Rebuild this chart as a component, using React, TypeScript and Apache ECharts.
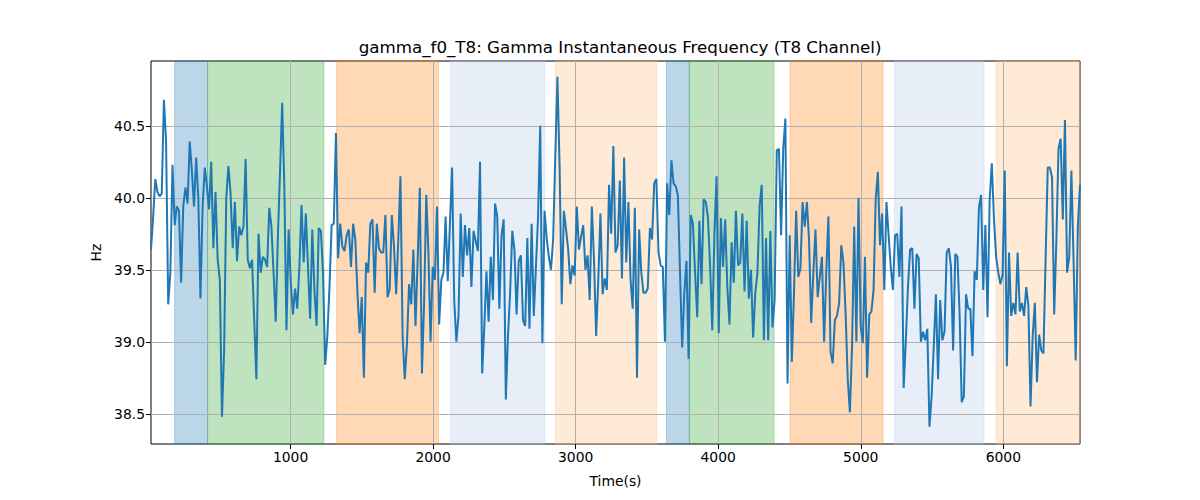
import React, { useEffect, useRef } from "react";
import * as echarts from "echarts";

const TITLE = "gamma_f0_T8: Gamma Instantaneous Frequency (T8 Channel)";
const X_NAME = "Time(s)";
const Y_NAME = "Hz";

const T_START = 21;
const T_END = 6538;

const X_TICKS = [1000, 2000, 3000, 4000, 5000, 6000];
const Y_TICKS = [38.5, 39.0, 39.5, 40.0, 40.5];
const Y_MIN = 38.29;
const Y_MAX = 40.95;

// Hz values sampled evenly over [T_START, T_END]
const hzValues: number[] = [
  // 0 - ~800
  39.64, 39.87, 40.13, 40.04, 40.01, 40.03, 40.68, 40.40, 39.26, 39.48,
  40.23, 39.81, 39.94, 39.91, 39.41, 39.94, 40.07, 39.96, 40.39, 40.19,
  39.94, 40.28, 40.00, 39.30, 39.94, 40.21, 40.08, 39.92, 40.25, 39.65,
  40.04, 39.57, 39.43, 38.48, 38.94, 40.00, 40.22, 40.03, 39.65, 39.97,
  39.56, 39.80, 39.74, 39.80, 40.27, 39.57, 39.51, 39.57, 39.15, 38.74,
  39.75, 39.48, 39.59,
  // ~800 - 1600
  39.57, 39.52, 39.93, 39.80, 39.48, 39.14, 39.73, 40.18, 40.66, 40.08,
  39.08, 39.78, 39.41, 39.19, 39.37, 39.23, 39.52, 39.95, 39.55, 39.89,
  39.52, 39.16, 39.78, 39.36, 39.11, 39.79, 39.77, 39.48, 38.84, 39.04,
  39.38, 39.81, 39.82, 40.45, 39.58, 39.82, 39.66, 39.63, 39.74, 39.78,
  39.52, 39.82, 39.71, 39.34, 39.06, 39.31, 38.75, 39.55, 39.48, 39.82,
  39.85, 39.34, 39.82, 39.65, 39.62,
  // ~1600 - 2400
  39.62, 39.88, 39.31, 39.37, 39.88, 39.66, 39.33, 39.71, 40.15, 39.04,
  38.74, 38.98, 39.40, 39.26, 39.64, 39.11, 39.57, 40.07, 38.78, 39.27,
  40.02, 39.62, 39.00, 39.52, 39.43, 39.94, 39.12, 39.43, 39.48, 39.87,
  39.42, 39.82, 40.21, 39.29, 39.00, 39.18, 39.89, 39.45, 39.81, 39.60,
  39.79, 39.38, 39.77, 39.70, 39.63, 40.25, 38.78, 39.11, 39.49, 39.14,
  39.59, 39.29, 39.96, 39.87,
  // ~2400 - 3200
  39.23, 39.74, 39.85, 38.60, 39.04, 39.34, 39.77, 39.64, 39.19, 39.56,
  39.60, 39.15, 39.11, 39.72, 39.09, 39.82, 39.18, 39.52, 39.87, 40.50,
  38.99, 39.91, 39.72, 39.59, 39.50, 39.71, 40.29, 40.84, 40.22, 39.26,
  39.91, 39.78, 39.64, 39.40, 39.53, 39.46, 39.94, 39.64, 39.73, 39.81,
  39.50, 39.60, 39.29, 39.94, 39.57, 39.04, 39.43, 39.89, 39.33, 39.44,
  39.36, 40.09, 39.75,
  // ~3200 - 4000
  40.36, 39.62, 39.67, 40.12, 39.44, 40.28, 39.55, 39.97, 39.43, 39.23,
  39.93, 38.75, 39.78, 39.48, 39.34, 39.34, 39.37, 39.79, 39.71, 40.10,
  40.13, 39.62, 39.53, 39.52, 39.00, 40.10, 39.88, 40.26, 40.10, 40.08,
  40.02, 39.48, 38.96, 39.34, 39.56, 38.88, 39.88, 39.82, 39.48, 39.17,
  39.84, 39.40, 39.99, 39.97, 39.86, 39.52, 39.08, 39.75, 40.15, 39.06,
  // ~4000 - 4800
  39.86, 39.52, 39.85, 39.38, 39.12, 39.69, 39.41, 39.91, 39.53, 39.55,
  39.89, 39.35, 39.84, 39.30, 39.50, 39.03, 39.34, 39.48, 39.94, 40.09,
  39.01, 39.72, 39.01, 39.77, 39.10, 39.29, 40.33, 40.34, 39.74, 40.34,
  40.55, 38.71, 39.74, 38.86, 39.34, 39.91, 39.45, 39.51, 39.97, 39.80,
  39.97, 39.71, 39.13, 39.48, 39.78, 39.31, 39.45, 39.59, 39.00, 39.48,
  39.87, 38.93, 38.85, 39.15, 39.18,
  // ~4800 - 5600
  39.27, 39.67, 39.55, 39.20, 38.74, 38.51, 38.97, 39.80, 39.00, 40.00,
  39.11, 38.99, 39.59, 38.75, 39.19, 39.21, 39.36, 39.99, 40.18, 39.67,
  39.89, 39.36, 39.97, 39.74, 39.52, 39.36, 39.74, 39.75, 39.45, 39.94,
  38.68, 39.01, 39.38, 39.64, 39.65, 39.23, 39.61, 39.58, 39.00, 39.07,
  39.01, 39.09, 38.41, 38.62, 38.97, 39.33, 38.74, 39.29, 39.01, 39.07,
  39.62, 39.65, 39.52,
  // ~5600 - end
  38.94, 39.61, 39.59, 39.20, 38.58, 38.62, 39.33, 39.23, 39.23, 38.90,
  39.49, 39.43, 39.93, 40.02, 39.36, 39.81, 39.17, 39.99, 40.24, 39.85,
  39.59, 39.48, 39.40, 39.47, 40.19, 38.83, 39.62, 39.18, 39.27, 39.19,
  39.62, 39.21, 39.27, 39.18, 39.38, 39.25, 38.55, 39.04, 39.27, 38.72,
  39.05, 38.94, 38.92, 39.57, 40.21, 40.21, 40.14, 39.19, 39.70, 40.34,
  40.41, 39.85, 40.54, 39.48, 39.59, 40.19, 39.57, 38.87, 39.80, 40.09,
];

// Shaded segments
const bandStarts = [187, 418, 1323, 2122, 2859, 3637, 3798, 4504, 5236, 5949];
const bandEnds = [418, 1234, 2038, 2784, 3569, 3798, 4392, 5156, 5865, T_END];
const bandColors = [
  "rgba(31,119,180,0.3)",
  "rgba(44,160,44,0.3)",
  "rgba(255,127,14,0.3)",
  "rgba(174,199,232,0.3)",
  "rgba(255,187,120,0.3)",
  "rgba(31,119,180,0.3)",
  "rgba(44,160,44,0.3)",
  "rgba(255,127,14,0.3)",
  "rgba(174,199,232,0.3)",
  "rgba(255,187,120,0.3)",
];

const FONT = "DejaVu Sans";

export default function App() {
  const ref = useRef<HTMLDivElement>(null);

  useEffect(() => {
    document.body.style.margin = "0";
    if (!ref.current) return;
    const chart = echarts.init(ref.current, undefined, { renderer: "svg" });
    const n = hzValues.length;
    const step = (T_END - T_START) / (n - 1);
    const data = hzValues.map((v, i) => [T_START + i * step, v]);
    const bands = bandStarts.map((s, i) => [
      { xAxis: s, itemStyle: { color: bandColors[i], borderColor: bandColors[i], borderWidth: 1 } },
      { xAxis: bandEnds[i] },
    ]);
    const labelStyle = { fontFamily: FONT, fontSize: 13.9, color: "#000" };
    chart.setOption({
      animation: false,
      title: {
        text: TITLE,
        left: 615,
        top: 33,
        textAlign: "center",
        textStyle: { fontFamily: FONT, fontSize: 16.7, fontWeight: "normal", color: "#000" },
      },
      grid: {
        left: 151,
        right: 120,
        top: 61,
        bottom: 56,
        show: true,
        borderColor: "#000",
        borderWidth: 1,
        backgroundColor: "transparent",
      },
      xAxis: {
        type: "value",
        z: 2,
        min: T_START,
        max: T_END,
        name: X_NAME,
        nameLocation: "middle",
        nameGap: 30,
        nameTextStyle: labelStyle,
        axisLine: { show: false },
        axisTick: { show: true, length: 5, lineStyle: { color: "#000" }, customValues: X_TICKS },
        axisLabel: { ...labelStyle, margin: 6, customValues: X_TICKS, formatter: (v: number) => String(v) },
        splitLine: { show: true, lineStyle: { color: "#b0b0b0", width: 1 } },
      },
      yAxis: {
        type: "value",
        z: 2,
        min: Y_MIN,
        max: Y_MAX,
        name: Y_NAME,
        nameLocation: "middle",
        nameGap: 48,
        nameTextStyle: labelStyle,
        axisLine: { show: false },
        axisTick: { show: true, length: 5, lineStyle: { color: "#000" }, customValues: Y_TICKS },
        axisLabel: { ...labelStyle, margin: 6, customValues: Y_TICKS, formatter: (v: number) => v.toFixed(1) },
        splitLine: { show: true, lineStyle: { color: "#b0b0b0", width: 1 } },
      },
      series: [
        {
          type: "line",
          z: 3,
          data,
          showSymbol: false,
          symbol: "none",
          lineStyle: { color: "#1f77b4", width: 2 },
          markArea: { silent: true, z: 1, data: bands },
        },
      ],
    });
    return () => chart.dispose();
  }, []);

  return <div ref={ref} style={{ width: 1200, height: 500 }} />;
}
